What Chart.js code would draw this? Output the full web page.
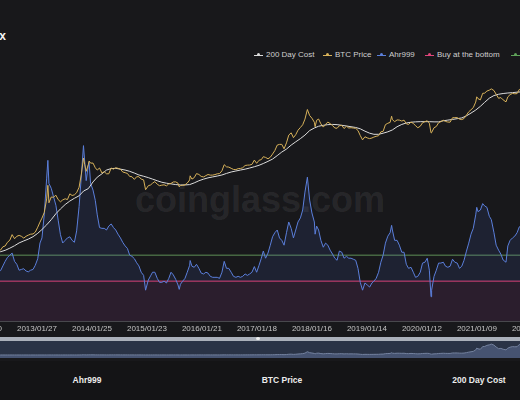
<!DOCTYPE html>
<html>
<head>
<meta charset="utf-8">
<script src="https://cdn.jsdelivr.net/npm/chart.js@4.4.1/dist/chart.umd.min.js"></script>
<style>
  html, body { margin: 0; padding: 0; }
  body {
    width: 520px; height: 400px; overflow: hidden; position: relative;
    background: #18181b; font-family: "Liberation Sans", Arial, sans-serif;
  }
  .abs { position: absolute; }
  .title { left: -94px; top: 29px; width: 100px; text-align: right; color: #f4f4f4; font-weight: bold; font-size: 12px; white-space: nowrap; }
  .lg { position: absolute; top: 50px; height: 10px; line-height: 10px; font-size: 8px; color: #cfcfcf; white-space: nowrap; padding-left: 12px; }
  .lg i { position: absolute; left: 0; top: 4.5px; width: 9px; height: 1px; }
  .lg i::after { content: ''; position: absolute; left: 3px; top: -1.5px; width: 3px; height: 3px; border-radius: 50%; background: inherit; }
  .wm { left: 135px; top: 182px; font-size: 36px; line-height: 36px; font-weight: bold; color: rgba(255,255,255,0.075); white-space: nowrap; }
  #mainBox { left: -90px; top: 77px; width: 696px; height: 260px; }
  #bar { left: -30px; top: 337px; width: 576px; height: 4px; background: #aab0ba; }
  #handle { left: 256px; top: 337px; width: 4px; height: 3px; border-radius: 50%; background: #f0f0f0; }
  #sliderBox { left: -30px; top: 341px; width: 576px; height: 17px; background: #2a3346; }
  #foot { left: 0; top: 361px; width: 520px; height: 39px; background: #141416; }
  .col { position: absolute; top: 375px; width: 120px; margin-left: -60px; text-align: center; font-size: 8.5px; line-height: 10px; font-weight: bold; color: #ececec; }
</style>
</head>
<body>
<div class="abs title">Ahr999 Index</div>

<div class="lg" style="left:254px"><i style="background:#dcdcdc"></i>200 Day Cost</div>
<div class="lg" style="left:323px"><i style="background:#d8b25a"></i>BTC Price</div>
<div class="lg" style="left:377px"><i style="background:#5b7fdb"></i>Ahr999</div>
<div class="lg" style="left:425px"><i style="background:#e0457b"></i>Buy at the bottom</div>
<div class="lg" style="left:511px"><i style="background:#5fa35a"></i>DCA</div>

<div class="abs wm">coinglass.com</div>
<div class="abs" id="mainBox"><canvas id="main"></canvas></div>
<div class="abs" id="bar"></div>
<div class="abs" id="sliderBox"><canvas id="slider"></canvas></div>
<div class="abs" id="handle"></div>
<div class="abs" id="foot"></div>
<div class="col" style="left:87px">Ahr999</div>
<div class="col" style="left:282px">BTC Price</div>
<div class="col" style="left:479px">200 Day Cost</div>

<script>
// x axis tick labels (every 363 days)
const tickLabels = ['2012/01/30', '2013/01/27', '2014/01/25', '2015/01/23', '2016/01/21', '2017/01/18',
  '2018/01/16', '2019/01/14', '2020/01/12', '2021/01/09', '2022/01/07'];
const rangeDates = ['2011-11-12', '2022-04-10'];

// semi-monthly samples for BTC price and Ahr999
const priceDates = [
  '2011-12-01', '2011-12-16',
  '2012-01-01', '2012-01-16', '2012-02-01', '2012-02-16', '2012-03-01', '2012-03-16', '2012-04-01', '2012-04-16', '2012-05-01', '2012-05-16', '2012-06-01', '2012-06-16',
  '2012-07-01', '2012-07-16', '2012-08-01', '2012-08-16', '2012-09-01', '2012-09-16', '2012-10-01', '2012-10-16', '2012-11-01', '2012-11-16', '2012-12-01', '2012-12-16',
  '2013-01-01', '2013-01-16', '2013-02-01', '2013-02-16', '2013-03-01', '2013-03-16', '2013-04-01', '2013-04-09', '2013-04-16', '2013-05-01', '2013-05-16', '2013-06-01', '2013-06-16',
  '2013-07-01', '2013-07-16', '2013-08-01', '2013-08-16', '2013-09-01', '2013-09-16', '2013-10-01', '2013-10-16', '2013-11-01', '2013-11-16', '2013-11-30', '2013-12-08', '2013-12-18',
  '2014-01-01', '2014-01-06', '2014-01-16', '2014-02-01', '2014-02-16', '2014-03-01', '2014-03-16', '2014-04-01', '2014-04-16', '2014-05-01', '2014-05-16', '2014-06-01', '2014-06-16',
  '2014-07-01', '2014-07-16', '2014-08-01', '2014-08-16', '2014-09-01', '2014-09-16', '2014-10-01', '2014-10-16', '2014-11-01', '2014-11-16', '2014-12-01', '2014-12-16',
  '2015-01-01', '2015-01-14', '2015-02-01', '2015-02-16', '2015-03-01', '2015-03-16', '2015-04-01', '2015-04-16', '2015-05-01', '2015-05-16', '2015-06-01', '2015-06-16', '2015-07-01',
  '2015-07-16', '2015-08-01', '2015-08-16', '2015-08-24', '2015-09-01', '2015-09-16', '2015-10-01', '2015-10-16', '2015-11-01', '2015-11-04', '2015-11-16', '2015-12-01', '2015-12-16',
  '2016-01-01', '2016-01-16', '2016-02-01', '2016-02-16', '2016-03-01', '2016-03-16', '2016-04-01', '2016-04-16', '2016-05-01', '2016-05-16', '2016-06-01', '2016-06-16',
  '2016-07-01', '2016-07-16', '2016-08-01', '2016-08-16', '2016-09-01', '2016-09-16', '2016-10-01', '2016-10-16', '2016-11-01', '2016-11-16', '2016-12-01', '2016-12-16',
  '2017-01-01', '2017-01-16', '2017-02-01', '2017-02-16', '2017-03-01', '2017-03-16', '2017-04-01', '2017-04-16', '2017-05-01', '2017-05-16', '2017-06-01', '2017-06-16',
  '2017-07-01', '2017-07-16', '2017-08-01', '2017-08-16', '2017-09-01', '2017-09-16', '2017-10-01', '2017-10-16', '2017-11-01', '2017-11-16', '2017-12-01', '2017-12-17',
  '2018-01-01', '2018-01-16', '2018-02-01', '2018-02-06', '2018-02-16', '2018-03-01', '2018-03-16', '2018-04-01', '2018-04-16', '2018-05-01', '2018-05-16', '2018-06-01', '2018-06-16',
  '2018-07-01', '2018-07-16', '2018-08-01', '2018-08-16', '2018-09-01', '2018-09-16', '2018-10-01', '2018-10-16', '2018-11-01', '2018-11-16', '2018-12-01', '2018-12-16',
  '2019-01-01', '2019-01-16', '2019-02-01', '2019-02-16', '2019-03-01', '2019-03-16', '2019-04-01', '2019-04-16', '2019-05-01', '2019-05-16', '2019-06-01', '2019-06-16', '2019-06-26',
  '2019-07-01', '2019-07-16', '2019-08-01', '2019-08-16', '2019-09-01', '2019-09-16', '2019-10-01', '2019-10-16', '2019-11-01', '2019-11-16', '2019-12-01', '2019-12-16',
  '2020-01-01', '2020-01-16', '2020-02-01', '2020-02-16', '2020-03-01', '2020-03-12', '2020-03-16', '2020-04-01', '2020-04-16', '2020-05-01', '2020-05-16', '2020-06-01', '2020-06-16',
  '2020-07-01', '2020-07-16', '2020-08-01', '2020-08-16', '2020-09-01', '2020-09-16', '2020-10-01', '2020-10-16', '2020-11-01', '2020-11-16', '2020-12-01', '2020-12-16',
  '2021-01-01', '2021-01-08', '2021-01-16', '2021-02-01', '2021-02-16', '2021-03-01', '2021-03-16', '2021-04-01', '2021-04-14', '2021-05-01', '2021-05-16', '2021-06-01', '2021-06-16',
  '2021-07-01', '2021-07-20', '2021-08-01', '2021-08-16', '2021-09-01', '2021-09-16', '2021-10-01', '2021-10-16', '2021-11-01', '2021-11-10', '2021-11-16', '2021-12-01', '2021-12-16',
  '2022-01-01', '2022-01-16', '2022-02-01', '2022-02-16', '2022-03-01', '2022-03-16', '2022-04-01'
];

const btcPrice = [
  3.0, 3.2,
  5.3, 6.8, 6.1, 4.4, 4.9, 5.3, 4.9, 4.9, 5.0, 5.1, 5.3, 6.4,
  6.7, 8.3, 9.4, 13.0, 10.2, 11.8, 12.4, 11.8, 10.6, 11.8, 12.6, 13.3,
  13.5, 15.0, 20.0, 27, 34, 47, 104, 230, 83, 116, 115, 129, 100,
  88, 98, 105, 100, 140, 127, 132, 150, 205, 440, 1130, 780, 520,
  770, 950, 840, 840, 640, 560, 630, 470, 510, 450, 450, 630, 590,
  640, 620, 590, 500, 480, 460, 385, 380, 325, 380, 380, 330,
  315, 178, 225, 235, 260, 285, 245, 225, 232, 237, 223, 250, 257,
  280, 281, 260, 210, 228, 230, 237, 262, 315, 400, 330, 360, 455,
  433, 385, 375, 405, 432, 416, 417, 430, 450, 455, 535, 765,
  675, 665, 620, 580, 575, 608, 615, 640, 730, 745, 750, 780,
  1000, 830, 990, 1030, 1220, 1170, 1080, 1180, 1420, 1740, 2400, 2500,
  2500, 1930, 2730, 4300, 4900, 3700, 4400, 5700, 6700, 7850, 10900, 19100,
  13400, 11500, 9100, 7000, 10200, 10950, 8300, 6850, 8050, 9200, 8400, 7500, 6500,
  6400, 7400, 7600, 6300, 7200, 6500, 6600, 6480, 6370, 5600, 4200, 3250,
  3900, 3650, 3500, 3630, 3830, 4000, 4150, 5200, 5350, 7900, 8570, 8990, 12900,
  10600, 9400, 10400, 10300, 9750, 10270, 8300, 8000, 9200, 8500, 7400, 6600,
  7200, 8800, 9400, 9900, 8600, 4900, 5000, 6600, 7100, 8800, 9400, 10200, 9500,
  9200, 9130, 11800, 11900, 11900, 10900, 10600, 11300, 13750, 16700, 18800, 21300,
  29400, 40000, 36000, 33500, 49000, 49600, 56000, 59000, 63500, 57800, 46400, 36700, 38300,
  33500, 29800, 39900, 45500, 48800, 47700, 48200, 61500, 61300, 65000, 60300, 57000, 47600,
  47300, 43100, 38700, 44600, 44400, 41100, 46300
];

const ahr999 = [
  0.35, 0.4,
  0.85, 1.3, 1.1, 0.6, 0.75, 0.85, 0.72, 0.7, 0.7, 0.68, 0.67, 0.8,
  0.95, 1.1, 1.2, 1.3, 0.95, 0.85, 0.68, 0.7, 0.72, 0.66, 0.64, 0.68,
  0.7, 0.82, 1.05, 1.9, 2.3, 5.5, 22, 43, 18, 15, 11, 7.9, 4.5,
  2.6, 1.9, 2.1, 2.3, 2.4, 2.1, 1.95, 3.0, 7.5, 24, 75, 42, 20,
  36, 40, 18, 14, 9.5, 5.5, 3.4, 3.3, 3.3, 3.1, 3.6, 3.9, 3.4,
  3.1, 2.65, 2.3, 1.95, 1.7, 1.55, 1.2, 1.15, 1.05, 0.9, 0.8, 0.63,
  0.56, 0.32, 0.47, 0.55, 0.63, 0.63, 0.5, 0.43, 0.43, 0.45, 0.42, 0.5, 0.63,
  0.57, 0.48, 0.39, 0.33, 0.4, 0.45, 0.5, 0.63, 0.82, 0.98, 0.79, 0.76, 0.85,
  0.73, 0.61, 0.59, 0.63, 0.61, 0.54, 0.52, 0.52, 0.52, 0.5, 0.63, 0.95,
  0.73, 0.73, 0.63, 0.54, 0.52, 0.54, 0.52, 0.54, 0.59, 0.56, 0.59, 0.63,
  0.78, 0.63, 0.82, 1.07, 1.4, 1.07, 1.3, 1.75, 2.4, 2.8, 3.1, 2.3,
  2.1, 1.75, 2.8, 4.2, 3.3, 2.3, 3.1, 4.2, 4.9, 6.6, 13, 22.8,
  9.6, 5.9, 4.2, 2.65, 3.6, 3.1, 2.1, 1.62, 1.89, 1.75, 1.45, 1.25, 1.07,
  0.99, 1.4, 1.34, 1.07, 1.15, 1.07, 1.07, 1.03, 0.99, 0.73, 0.43, 0.32,
  0.42, 0.39, 0.36, 0.42, 0.45, 0.5, 0.63, 0.92, 1.2, 1.89, 2.46, 2.8, 3.7,
  3.1, 2.1, 2.1, 1.75, 1.34, 1.34, 0.85, 0.73, 0.76, 0.63, 0.52, 0.54,
  0.63, 0.89, 0.92, 1.07, 0.68, 0.25, 0.32, 0.54, 0.68, 0.89, 0.89, 0.92, 0.79,
  0.76, 0.79, 1.03, 0.92, 0.89, 0.73, 0.79, 0.99, 1.4, 1.89, 2.65, 3.3,
  5.5, 7.3, 6.2, 6.6, 8.4, 7.7, 7.3, 5.2, 4.6, 2.85, 1.75, 1.45, 1.25,
  1.0, 0.92, 1.7, 2.1, 2.3, 2.46, 2.8, 3.5, 3.6, 4.0, 3.3, 2.6, 1.6,
  1.4, 1.1, 0.8, 0.95, 0.9, 0.8, 0.95
];

// monthly samples for the 200 day cost
const costDates = [
  '2011-12-01',
  '2012-01-01', '2012-02-01', '2012-03-01', '2012-04-01', '2012-05-01', '2012-06-01', '2012-07-01', '2012-08-01', '2012-09-01', '2012-10-01', '2012-11-01', '2012-12-01',
  '2013-01-01', '2013-02-01', '2013-03-01', '2013-04-01', '2013-05-01', '2013-06-01', '2013-07-01', '2013-08-01', '2013-09-01', '2013-10-01', '2013-11-01', '2013-12-01',
  '2014-01-01', '2014-02-01', '2014-03-01', '2014-04-01', '2014-05-01', '2014-06-01', '2014-07-01', '2014-08-01', '2014-09-01', '2014-10-01', '2014-11-01', '2014-12-01',
  '2015-01-01', '2015-02-01', '2015-03-01', '2015-04-01', '2015-05-01', '2015-06-01', '2015-07-01', '2015-08-01', '2015-09-01', '2015-10-01', '2015-11-01', '2015-12-01',
  '2016-01-01', '2016-02-01', '2016-03-01', '2016-04-01', '2016-05-01', '2016-06-01', '2016-07-01', '2016-08-01', '2016-09-01', '2016-10-01', '2016-11-01', '2016-12-01',
  '2017-01-01', '2017-02-01', '2017-03-01', '2017-04-01', '2017-05-01', '2017-06-01', '2017-07-01', '2017-08-01', '2017-09-01', '2017-10-01', '2017-11-01', '2017-12-01',
  '2018-01-01', '2018-02-01', '2018-03-01', '2018-04-01', '2018-05-01', '2018-06-01', '2018-07-01', '2018-08-01', '2018-09-01', '2018-10-01', '2018-11-01', '2018-12-01',
  '2019-01-01', '2019-02-01', '2019-03-01', '2019-04-01', '2019-05-01', '2019-06-01', '2019-07-01', '2019-08-01', '2019-09-01', '2019-10-01', '2019-11-01', '2019-12-01',
  '2020-01-01', '2020-02-01', '2020-03-01', '2020-04-01', '2020-05-01', '2020-06-01', '2020-07-01', '2020-08-01', '2020-09-01', '2020-10-01', '2020-11-01', '2020-12-01',
  '2021-01-01', '2021-02-01', '2021-03-01', '2021-04-01', '2021-05-01', '2021-06-01', '2021-07-01', '2021-08-01', '2021-09-01', '2021-10-01', '2021-11-01', '2021-12-01',
  '2022-01-01', '2022-02-01', '2022-03-01', '2022-04-01'
];
const dayCost = [
  7.5,
  6.5, 5.8, 5.3, 5.0, 4.8, 4.8, 5.2, 5.9, 6.8, 8.0, 9.0, 10.0,
  11.5, 14, 17.5, 23, 31, 44, 58, 75, 92, 108, 125, 165,
  190, 280, 370, 450, 560, 610, 620, 590, 560, 520, 470, 420,
  390, 360, 330, 300, 275, 260, 250, 240, 235, 235, 240, 265,
  300, 330, 355, 375, 395, 420, 460, 500, 530, 560, 590, 630,
  680, 740, 820, 930, 1060, 1300, 1600, 1900, 2400, 2900, 3500, 4300,
  5600, 6500, 7200, 7600, 7900, 8000, 7900, 7600, 7300, 7000, 6700, 6200,
  5400, 4800, 4500, 4500, 4800, 5200, 5800, 7000, 8000, 8700, 9100, 9300,
  9400, 9400, 9400, 9300, 9300, 9900, 10300, 10700, 11200, 11700, 13200, 15500,
  18500, 23000, 29000, 37000, 43000, 46500, 48500, 50000, 51000, 52500, 53500, 54000,
  54000, 53000, 51500, 50000
];

// Ahr999 guide levels
const bottomLevel = [0.45, 0.45];
const dcaLevel = [1.2, 1.2];

// --- helpers ---
const ORIGIN = Date.UTC(2012, 0, 30);
function dayOf(s) {
  const [y, m, d] = s.split(/[-\/]/).map(Number);
  return (Date.UTC(y, m - 1, d) - ORIGIN) / 86400000;
}
const toPoints = (dates, vals) => dates.map((d, i) => ({ x: dayOf(d), y: vals[i] }));
const tickDays = tickLabels.map(dayOf);
const xMin = dayOf(rangeDates[0]);
const xMax = dayOf(rangeDates[1]);

const line = { pointRadius: 0, borderWidth: 1, tension: 0, fill: false };

// --- main chart ---
new Chart(document.getElementById('main'), {
  type: 'line',
  data: {
    datasets: [
      { ...line, label: 'BTC Price', data: toPoints(priceDates, btcPrice), yAxisID: 'yPrice', borderColor: '#d8b25a' },
      { ...line, label: '200 Day Cost', data: toPoints(costDates, dayCost), yAxisID: 'yPrice', borderColor: '#dcdcdc' },
      {
        ...line, label: 'Ahr999', data: toPoints(priceDates, ahr999), yAxisID: 'yAhr', borderColor: '#5b7fdb',
        fill: { target: { value: 0.45 }, above: 'rgba(80,110,210,0.13)', below: 'rgba(0,0,0,0)' }
      },
      {
        ...line, label: 'Buy at the bottom', data: toPoints(rangeDates, bottomLevel), yAxisID: 'yAhr',
        borderColor: '#e0457b', backgroundColor: '#2b1e2d', fill: 'start'
      },
      { ...line, label: 'DCA', data: toPoints(rangeDates, dcaLevel), yAxisID: 'yAhr', borderColor: '#5f8f57' }
    ]
  },
  options: {
    responsive: true,
    maintainAspectRatio: false,
    animation: false,
    layout: { padding: { left: 60, right: 60, top: 0, bottom: 0 } },
    plugins: { legend: { display: false }, tooltip: { enabled: false } },
    scales: {
      x: {
        type: 'linear', min: xMin, max: xMax,
        grid: { display: false, drawTicks: false },
        border: { display: true, color: '#48484d', width: 1 },
        afterBuildTicks: s => { s.ticks = tickDays.map(v => ({ value: v })); },
        afterFit: s => { s.height = 16; },
        ticks: {
          autoSkip: false, maxRotation: 0, padding: 3, color: '#c4c4c4',
          font: { size: 8, family: '"Liberation Sans", Arial, sans-serif' },
          callback: v => tickLabels[tickDays.indexOf(v)] || ''
        }
      },
      yPrice: { type: 'logarithmic', display: false, min: 0.0845, max: 127000 },
      yAhr: { type: 'logarithmic', display: false, min: 0.1, max: 1000 }
    }
  }
});

// --- data zoom thumbnail ---
new Chart(document.getElementById('slider'), {
  type: 'line',
  data: {
    datasets: [{
      ...line, data: toPoints(priceDates, btcPrice), borderColor: '#74829f',
      backgroundColor: '#465371', fill: 'start'
    }]
  },
  options: {
    responsive: true,
    maintainAspectRatio: false,
    animation: false,
    layout: { padding: 0 },
    plugins: { legend: { display: false }, tooltip: { enabled: false } },
    scales: {
      x: { type: 'linear', display: false, min: xMin, max: xMax },
      y: { display: false, min: -17450, max: 81450 }
    }
  }
});
</script>
</body>
</html>
